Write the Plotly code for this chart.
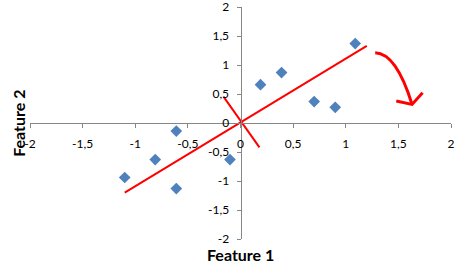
import plotly.graph_objects as go

# Data points (Feature 1, Feature 2)
feature1 = [1.09, 0.19, 0.39, 0.70, 0.90, -0.61, -1.10, -0.81, -0.61, -0.10]
feature2 = [1.37, 0.66, 0.87, 0.37, 0.27, -0.14, -0.94, -0.63, -1.13, -0.63]

# Principal component lines
pc1_x = [-1.10, 1.20]
pc1_y = [-1.20, 1.33]
pc2_x = [-0.16, 0.18]
pc2_y = [0.45, -0.42]

# Rotation arrow (quadratic curve start, control, end) and arrowhead
arrow_curve_x = [1.28, 1.48, 1.63]
arrow_curve_y = [1.21, 1.20, 0.32]
arrow_head_x = [1.48, 1.63, 1.73]
arrow_head_y = [0.38, 0.32, 0.52]

# Axis ticks
tick_vals = [-2, -1.5, -1, -0.5, 0, 0.5, 1, 1.5, 2]
tick_text = ["-2", "-1,5", "-1", "-0,5", "0", "0,5", "1", "1,5", "2"]

RED = "#FF0000"
BLUE = "#4F81BD"
AXIS = "#868686"
FONT = "Lato, 'Open Sans', sans-serif"

fig = go.Figure()

fig.add_trace(go.Scatter(x=pc1_x, y=pc1_y, mode="lines",
                         line=dict(color=RED, width=2), hoverinfo="skip"))
fig.add_trace(go.Scatter(x=pc2_x, y=pc2_y, mode="lines",
                         line=dict(color=RED, width=2), hoverinfo="skip"))
fig.add_trace(go.Scatter(x=arrow_head_x, y=arrow_head_y, mode="lines",
                         line=dict(color=RED, width=3), hoverinfo="skip"))
fig.add_trace(go.Scatter(x=feature1, y=feature2, mode="markers",
                         marker=dict(symbol="diamond", size=9, color=BLUE)))

path = "M {},{} Q {},{} {},{}".format(
    arrow_curve_x[0], arrow_curve_y[0],
    arrow_curve_x[1], arrow_curve_y[1],
    arrow_curve_x[2], arrow_curve_y[2])
fig.add_shape(type="path", path=path, xref="x", yref="y",
              line=dict(color=RED, width=3))

axis_common = dict(
    range=[-2, 2], tickvals=tick_vals, ticktext=tick_text,
    showgrid=False, zeroline=False, showline=True, linecolor=AXIS,
    linewidth=1, ticks="outside", ticklen=4, tickcolor=AXIS,
    tickfont=dict(family=FONT, size=12, color="#000000"),
    anchor="free", position=0.5, fixedrange=True,
    ticklabeloverflow="allow", automargin=False,
)

fig.update_layout(
    width=458, height=269,
    margin=dict(l=30, r=7, t=7, b=30),
    paper_bgcolor="white", plot_bgcolor="white",
    showlegend=False,
    xaxis=dict(axis_common, ticklabelstandoff=6),
    yaxis=dict(axis_common, ticklabelstandoff=5),
    annotations=[
        dict(text="<b>Feature 1</b>", xref="paper", yref="paper",
             x=0.5, y=-0.066, xanchor="center", yanchor="middle",
             showarrow=False, font=dict(family=FONT, size=16, color="#000")),
        dict(text="<b>Feature 2</b>", xref="paper", yref="paper",
             x=-0.029, y=0.5, xanchor="center", yanchor="middle",
             textangle=-90,
             showarrow=False, font=dict(family=FONT, size=16, color="#000")),
    ],
)

fig.write_html("out.html")
